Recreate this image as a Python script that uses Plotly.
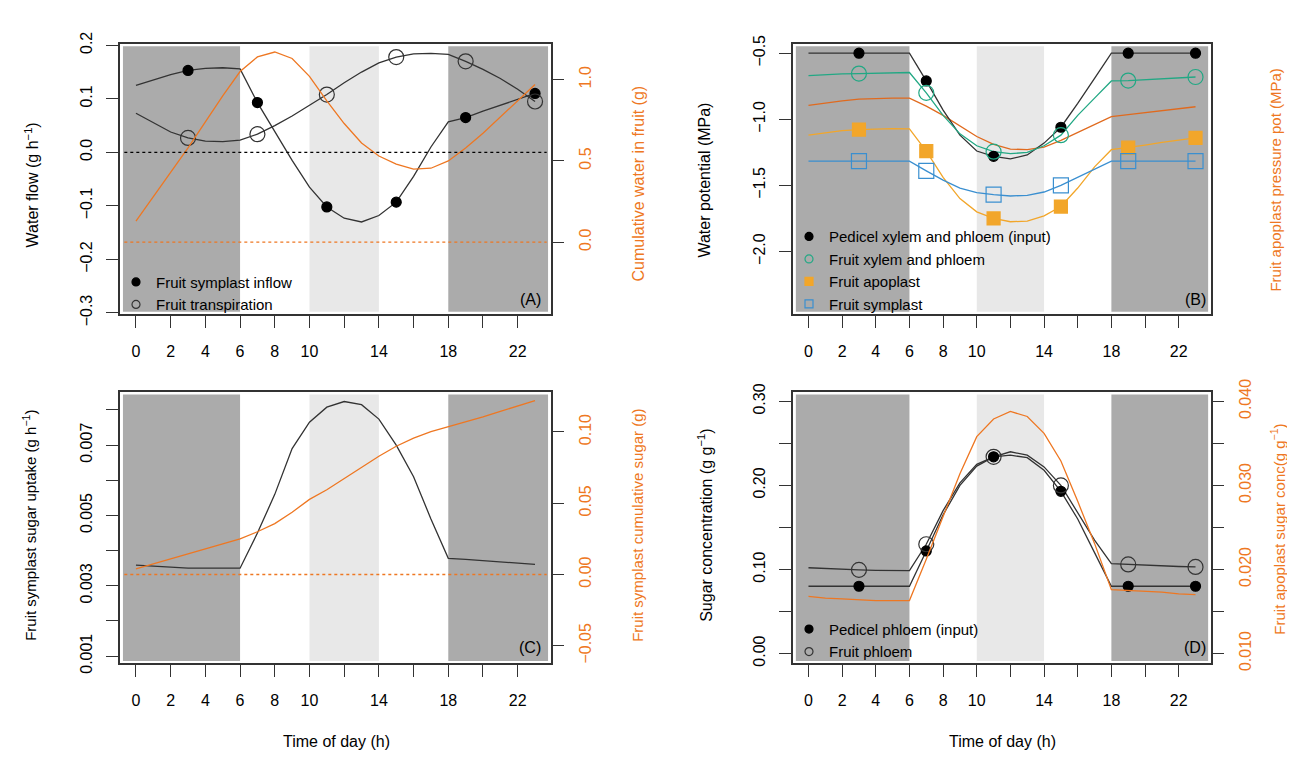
import plotly.graph_objects as go

# ---- data ----
hours = list(range(24))
mark_hours = [3, 7, 11, 15, 19, 23]

# (A) water flow
symplast_inflow = [0.125, 0.135, 0.145, 0.153, 0.157, 0.158, 0.156, 0.093, 0.04, -0.015, -0.065, -0.102,
                   -0.123, -0.13, -0.118, -0.093, -0.045, 0.01, 0.057, 0.065, 0.077, 0.088, 0.1, 0.11]
transpiration = [0.073, 0.055, 0.038, 0.027, 0.021, 0.02, 0.023, 0.034, 0.05, 0.068, 0.088, 0.108,
                 0.13, 0.15, 0.167, 0.178, 0.184, 0.185, 0.183, 0.17, 0.155, 0.138, 0.118, 0.095]
cum_water = [0.13, 0.28, 0.43, 0.58, 0.74, 0.9, 1.05, 1.14, 1.17, 1.13, 1.02, 0.87,
             0.73, 0.61, 0.53, 0.48, 0.45, 0.455, 0.5, 0.58, 0.67, 0.77, 0.87, 0.97]

# (B) water potential
pedicel_wp = [-0.5] * 7 + [-0.71, -0.93, -1.12, -1.24, -1.28, -1.3, -1.27, -1.18, -1.06, -0.88, -0.69] + [-0.5] * 6
fruit_xylem_wp = [-0.67, -0.662, -0.657, -0.654, -0.65, -0.648, -0.646, -0.8, -0.97, -1.11, -1.2, -1.245,
                  -1.26, -1.25, -1.2, -1.12, -0.97, -0.84, -0.71, -0.707, -0.7, -0.695, -0.688, -0.68]
apo_pressure = [-0.895, -0.875, -0.86, -0.848, -0.843, -0.84, -0.84, -0.9, -0.97, -1.05, -1.13, -1.19,
                -1.225, -1.23, -1.21, -1.16, -1.1, -1.04, -0.98, -0.965, -0.95, -0.935, -0.92, -0.905]
apoplast_wp = [-1.12, -1.1, -1.085, -1.078, -1.073, -1.07, -1.072, -1.24, -1.44, -1.6, -1.7, -1.75,
               -1.775, -1.77, -1.73, -1.66, -1.52, -1.36, -1.23, -1.215, -1.195, -1.175, -1.158, -1.14]
symplast_wp = [-1.317] * 7 + [-1.39, -1.46, -1.52, -1.555, -1.57, -1.58, -1.575, -1.55, -1.5, -1.44, -1.38] + [-1.317] * 6

# (C) sugar uptake
sugar_uptake = [0.00359, 0.00356, 0.00353, 0.0035, 0.0035, 0.0035, 0.0035, 0.0045, 0.0056, 0.0069, 0.00765, 0.00808,
                0.00824, 0.00815, 0.00774, 0.007, 0.0061, 0.0049, 0.00378, 0.00375, 0.00372, 0.00368, 0.00365, 0.00361]
cum_sugar = [0.004, 0.0075, 0.011, 0.0145, 0.018, 0.0215, 0.025, 0.03, 0.0357, 0.0437, 0.0527, 0.0595,
             0.0674, 0.0753, 0.083, 0.09, 0.0957, 0.1002, 0.1036, 0.107, 0.1106, 0.1145, 0.1183, 0.122]

# (D) sugar concentration
pedicel_sugar = [0.08] * 7 + [0.122, 0.165, 0.2, 0.223, 0.234, 0.236, 0.233, 0.218, 0.193, 0.16, 0.12] + [0.08] * 6
fruit_phloem_sugar = [0.102, 0.101, 0.1, 0.0995, 0.099, 0.0988, 0.0986, 0.13, 0.17, 0.203, 0.225, 0.234,
                      0.24, 0.236, 0.222, 0.2, 0.168, 0.135, 0.107, 0.106, 0.105, 0.1045, 0.1035, 0.103]
apo_sugar = [0.0168, 0.0166, 0.0165, 0.0164, 0.0163, 0.0163, 0.0163, 0.0212, 0.0262, 0.0314, 0.0358, 0.0379,
             0.0388, 0.0382, 0.0362, 0.0329, 0.0281, 0.0231, 0.0176, 0.0175, 0.0174, 0.0173, 0.0171, 0.017]

xtick_vals = list(range(0, 23, 2))
xtick_text = ["0", "2", "4", "6", "8", "10", "", "14", "", "18", "", "22"]

ORANGE = "#EE7722"
GREEN = "#22A884"
YELLOW = "#F2A62A"
BLUE = "#3A8FD0"
DARK = "#333333"
FONT = "Liberation Sans, Arial"

W, H = 1295, 760


def pick(vals):
    return [vals[h] for h in mark_hours]


fig = go.Figure()


def line(y, xa, ya, color, width=1.3):
    fig.add_trace(go.Scatter(x=hours, y=y, xaxis=xa, yaxis=ya, mode="lines",
                             line=dict(color=color, width=width), showlegend=False, hoverinfo="skip"))


def marks(y, xa, ya, symbol, color, size, fill=None):
    fig.add_trace(go.Scatter(x=mark_hours, y=pick(y), xaxis=xa, yaxis=ya, mode="markers",
                             marker=dict(symbol=symbol, size=size, color=fill or color,
                                         line=dict(color=color, width=1.2)),
                             showlegend=False, hoverinfo="skip"))


def legend_item(name, symbol, color, legend):
    fig.add_trace(go.Scatter(x=[None], y=[None], mode="markers", name=name, legend=legend,
                             marker=dict(symbol=symbol, size=8, color=color, line=dict(color=color, width=1.2))))


# panel A
line(cum_water, "x", "y2", ORANGE)
line(symplast_inflow, "x", "y", DARK)
line(transpiration, "x", "y", DARK)
marks(symplast_inflow, "x", "y", "circle", "black", 10)
marks(transpiration, "x", "y", "circle-open", DARK, 15)
legend_item("Fruit symplast inflow", "circle", "black", "legend")
legend_item("Fruit transpiration", "circle-open", DARK, "legend")

# panel B
line(apo_pressure, "x2", "y3", "#E06A1E")
line(pedicel_wp, "x2", "y3", DARK)
line(fruit_xylem_wp, "x2", "y3", GREEN)
line(apoplast_wp, "x2", "y3", YELLOW)
line(symplast_wp, "x2", "y3", BLUE)
marks(pedicel_wp, "x2", "y3", "circle", "black", 10)
marks(fruit_xylem_wp, "x2", "y3", "circle-open", GREEN, 15)
marks(apoplast_wp, "x2", "y3", "square", YELLOW, 13)
marks(symplast_wp, "x2", "y3", "square-open", BLUE, 15)
legend_item("Pedicel xylem and phloem (input)", "circle", "black", "legend2")
legend_item("Fruit xylem and phloem", "circle-open", GREEN, "legend2")
legend_item("Fruit apoplast", "square", YELLOW, "legend2")
legend_item("Fruit symplast", "square-open", BLUE, "legend2")

# panel C
line(cum_sugar, "x3", "y5", ORANGE)
line(sugar_uptake, "x3", "y4", DARK)

# panel D
line(apo_sugar, "x4", "y7", ORANGE)
line(pedicel_sugar, "x4", "y6", DARK)
line(fruit_phloem_sugar, "x4", "y6", DARK)
marks(pedicel_sugar, "x4", "y6", "circle", "black", 10)
marks(fruit_phloem_sugar, "x4", "y6", "circle-open", DARK, 15)
legend_item("Pedicel phloem (input)", "circle", "black", "legend3")
legend_item("Fruit phloem", "circle-open", DARK, "legend3")

dom_xl = [112 / W, 543 / W]
dom_xr = [785 / W, 1203 / W]
dom_top = [1 - 303 / H, 1 - 24 / H]
dom_bot = [1 - 664 / H, 1 - 384 / H]

xbase = dict(range=[-0.92, 23.92], tickvals=xtick_vals, ticktext=xtick_text, ticks="outside",
             ticklen=12, tickcolor=DARK, showgrid=False, zeroline=False, showline=True, mirror=True,
             linecolor=DARK, linewidth=1.5, ticklabelstandoff=10, tickfont=dict(size=16, color="black"))
ybase = dict(ticks="outside", ticklen=12, tickcolor=DARK, showgrid=False, zeroline=False, showline=True,
             mirror=True, linecolor=DARK, linewidth=1.5, tickangle=-90, ticklabelstandoff=8,
             tickfont=dict(size=16, color="black"))
yright = dict(ticks="outside", ticklen=12, tickcolor=DARK, showgrid=False, zeroline=False, showline=False,
              side="right", tickangle=-90, ticklabelstandoff=8, tickfont=dict(size=16, color=ORANGE))

fig.update_layout(
    xaxis=dict(xbase, domain=dom_xl, anchor="y"),
    yaxis=dict(ybase, domain=dom_top, anchor="x", range=[-0.302, 0.202],
               tickvals=[-0.3, -0.2, -0.1, 0, 0.1, 0.2], tickformat=".1f"),
    yaxis2=dict(yright, overlaying="y", anchor="x", range=[-0.442, 1.218],
                tickvals=[0, 0.5, 1.0], tickformat=".1f"),
    xaxis2=dict(xbase, domain=dom_xr, anchor="y3"),
    yaxis3=dict(ybase, domain=dom_top, anchor="x2", range=[-2.473, -0.432],
                tickvals=[-2.0, -1.5, -1.0, -0.5], tickformat=".1f"),
    xaxis3=dict(xbase, domain=dom_xl, anchor="y4"),
    yaxis4=dict(ybase, domain=dom_bot, anchor="x3", range=[0.0008, 0.0085],
                tickvals=[0.001, 0.002, 0.003, 0.004, 0.005, 0.006, 0.007, 0.008],
                ticktext=["0.001", "", "0.003", "", "0.005", "", "0.007", ""]),
    yaxis5=dict(yright, overlaying="y4", anchor="x3", range=[-0.0622, 0.1278],
                tickvals=[-0.05, 0, 0.05, 0.1], tickformat=".2f"),
    xaxis4=dict(xbase, domain=dom_xr, anchor="y6"),
    yaxis6=dict(ybase, domain=dom_bot, anchor="x4", range=[-0.0115, 0.3107],
                tickvals=[0, 0.05, 0.1, 0.15, 0.2, 0.25, 0.3],
                ticktext=["0.00", "", "0.10", "", "0.20", "", "0.30"]),
    yaxis7=dict(yright, overlaying="y6", anchor="x4", range=[0.00885, 0.04107],
                tickvals=[0.01, 0.015, 0.02, 0.025, 0.03, 0.035, 0.04],
                ticktext=["0.010", "", "0.020", "", "0.030", "", "0.040"]),
)

# shading: night (dark), midday (light)
shapes = []
for xa, ya in [("x", "y"), ("x2", "y3"), ("x3", "y4"), ("x4", "y6")]:
    for x0, x1, c in [(-0.75, 6, "#ABABAB"), (18, 23.75, "#ABABAB"), (10, 14, "#E8E8E8")]:
        shapes.append(dict(type="rect", xref=xa, yref=ya + " domain", x0=x0, x1=x1, y0=0.008, y1=0.992,
                           fillcolor=c, line_width=0, layer="below"))
# reference lines at zero
shapes.append(dict(type="line", xref="x domain", yref="y", x0=0.01, x1=0.99, y0=0, y1=0,
                   line=dict(color="black", width=1.3, dash="dot")))
shapes.append(dict(type="line", xref="x domain", yref="y2", x0=0.01, x1=0.99, y0=0, y1=0,
                   line=dict(color=ORANGE, width=1.3, dash="dot")))
shapes.append(dict(type="line", xref="x3 domain", yref="y5", x0=0.01, x1=0.99, y0=0, y1=0,
                   line=dict(color=ORANGE, width=1.3, dash="dot")))
fig.update_layout(shapes=shapes)

annots = []


def vtitle(text, x, y, color="black", size=16):
    annots.append(dict(text=text, x=x / W, y=1 - y / H, xref="paper", yref="paper", showarrow=False,
                       textangle=-90, font=dict(size=size, color=color), xanchor="center", yanchor="middle"))


vtitle("Water flow (g h<sup>\u22121</sup>)", 24, 170)
vtitle("Cumulative water in fruit (g)", 630, 168, ORANGE)
vtitle("Water potential (MPa)", 697, 165)
vtitle("Fruit apoplast pressure pot (MPa)", 1268, 165, ORANGE, 15)
vtitle("Fruit symplast sugar uptake (g h<sup>\u22121</sup>)", 22, 522, size=15)
vtitle("Fruit symplast cumulative sugar (g)", 630, 522, ORANGE, 15)
vtitle("Sugar concentration (g g<sup>\u22121</sup>)", 697, 522)
vtitle("Fruit apoplast sugar conc(g g<sup>\u22121</sup>)", 1270, 526, ORANGE, 15)

for cx, lab in [(328, "Time of day (h)"), (994, "Time of day (h)")]:
    annots.append(dict(text=lab, x=cx / W, y=1 - 745 / H, xref="paper", yref="paper", showarrow=False,
                       font=dict(size=16), xanchor="center", yanchor="middle"))

for px, py, lab in [(522, 288, "(A)"), (1187, 288, "(B)"), (522, 648, "(C)"), (1187, 648, "(D)")]:
    annots.append(dict(text=lab, x=px / W, y=1 - py / H, xref="paper", yref="paper", showarrow=False,
                       font=dict(size=16), xanchor="center", yanchor="middle"))
fig.update_layout(annotations=annots)

leg = dict(bgcolor="rgba(0,0,0,0)", font=dict(size=15, color="black"), xanchor="left", yanchor="top",
           tracegroupgap=0, itemwidth=30)
fig.update_layout(
    legend=dict(leg, x=108 / W, y=1 - 253 / H),
    legend2=dict(leg, x=781 / W, y=1 - 206 / H),
    legend3=dict(leg, x=781 / W, y=1 - 612 / H),
)

fig.update_layout(width=W, height=H, margin=dict(l=0, r=0, t=0, b=0), plot_bgcolor="white",
                  paper_bgcolor="white", font=dict(family=FONT, size=16, color="black"))

fig.write_html("out.html")
